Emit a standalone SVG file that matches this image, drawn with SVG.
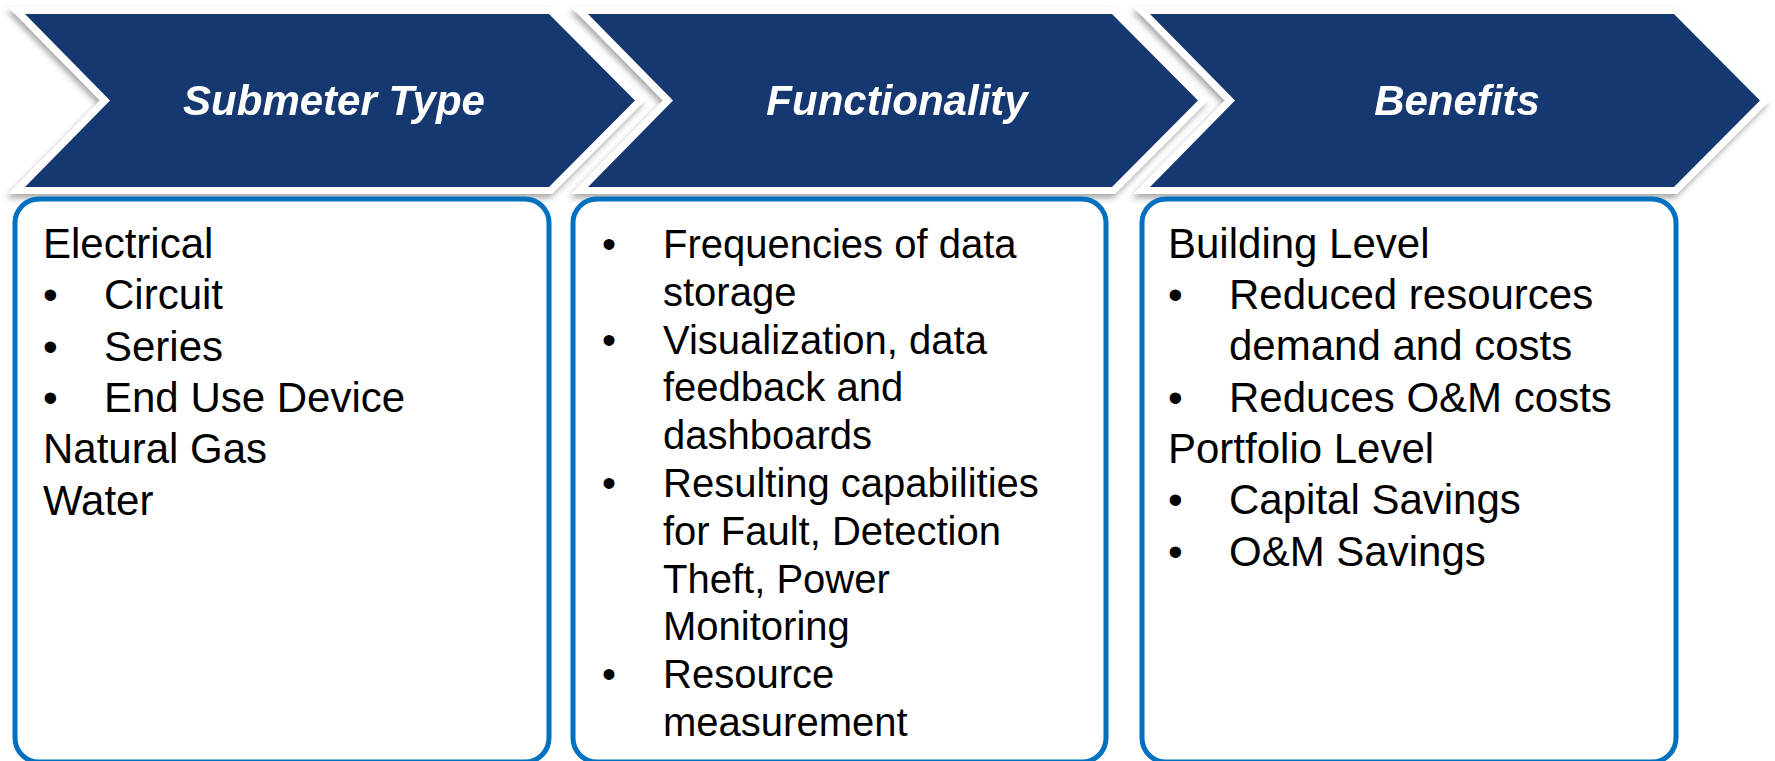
<svg xmlns="http://www.w3.org/2000/svg" width="1775" height="761" viewBox="0 0 1775 761">
  <defs>
    <filter id="sh" x="-5%" y="-10%" width="110%" height="130%">
      <feDropShadow dx="-2" dy="4" stdDeviation="3" flood-color="#000" flood-opacity="0.35"/>
    </filter>
  </defs>
  <style>
    .chev { fill: #193870; stroke: #ffffff; stroke-width: 14; stroke-linejoin: miter; paint-order: stroke; }
    .head { font-family: "Liberation Sans", Arial, sans-serif; font-size: 42px; font-weight: bold; font-style: italic; fill: #ffffff; text-anchor: middle; }
    .box { fill: #ffffff; stroke: #0070c0; stroke-width: 5; }
    .t { font-family: "Liberation Sans", Arial, sans-serif; font-size: 42px; fill: #000000; }
    .t2 { font-family: "Liberation Sans", Arial, sans-serif; font-size: 40px; fill: #000000; }
  </style>
  <rect width="1775" height="761" fill="#ffffff"/>

  <g id="chevron-benefits" filter="url(#sh)">
    <polygon class="chev" points="1150,14 1674,14 1760,100.5 1674,187 1150,187 1235,100.5"/>
    <text class="head" x="1457" y="115">Benefits</text>
  </g>
  <g id="chevron-functionality" filter="url(#sh)">
    <polygon class="chev" points="588,14 1112,14 1198,100.5 1112,187 588,187 673,100.5"/>
    <text class="head" x="897" y="115">Functionality</text>
  </g>
  <g id="chevron-submeter" filter="url(#sh)">
    <polygon class="chev" points="25,14 549,14 635,100.5 549,187 25,187 110,100.5"/>
    <text class="head" x="334" y="115">Submeter Type</text>
  </g>

  <g id="box-submeter">
    <rect class="box" x="15" y="199" width="534" height="563" rx="24" ry="24"/>
    <text class="t" x="43" y="258">Electrical</text>
    <text class="t" x="43" y="309">•</text><text class="t" x="104" y="309">Circuit</text>
    <text class="t" x="43" y="361">•</text><text class="t" x="104" y="361">Series</text>
    <text class="t" x="43" y="412">•</text><text class="t" x="104" y="412">End Use Device</text>
    <text class="t" x="43" y="463">Natural Gas</text>
    <text class="t" x="43" y="515">Water</text>
  </g>

  <g id="box-functionality">
    <rect class="box" x="573" y="199" width="533" height="563" rx="24" ry="24"/>
    <text class="t2" x="602" y="258">•</text><text class="t2" x="663" y="258">Frequencies of data</text>
    <text class="t2" x="663" y="306">storage</text>
    <text class="t2" x="602" y="354">•</text><text class="t2" x="663" y="354">Visualization, data</text>
    <text class="t2" x="663" y="401">feedback and</text>
    <text class="t2" x="663" y="449">dashboards</text>
    <text class="t2" x="602" y="497">•</text><text class="t2" x="663" y="497">Resulting capabilities</text>
    <text class="t2" x="663" y="545">for Fault, Detection</text>
    <text class="t2" x="663" y="593">Theft, Power</text>
    <text class="t2" x="663" y="640">Monitoring</text>
    <text class="t2" x="602" y="688">•</text><text class="t2" x="663" y="688">Resource</text>
    <text class="t2" x="663" y="736">measurement</text>
  </g>

  <g id="box-benefits">
    <rect class="box" x="1142" y="199" width="534" height="563" rx="24" ry="24"/>
    <text class="t" x="1168" y="258">Building Level</text>
    <text class="t" x="1168" y="309">•</text><text class="t" x="1229" y="309">Reduced resources</text>
    <text class="t" x="1229" y="360">demand and costs</text>
    <text class="t" x="1168" y="412">•</text><text class="t" x="1229" y="412">Reduces O&amp;M costs</text>
    <text class="t" x="1168" y="463">Portfolio Level</text>
    <text class="t" x="1168" y="514">•</text><text class="t" x="1229" y="514">Capital Savings</text>
    <text class="t" x="1168" y="566">•</text><text class="t" x="1229" y="566">O&amp;M Savings</text>
  </g>

  <g id="connectors"/>
</svg>
